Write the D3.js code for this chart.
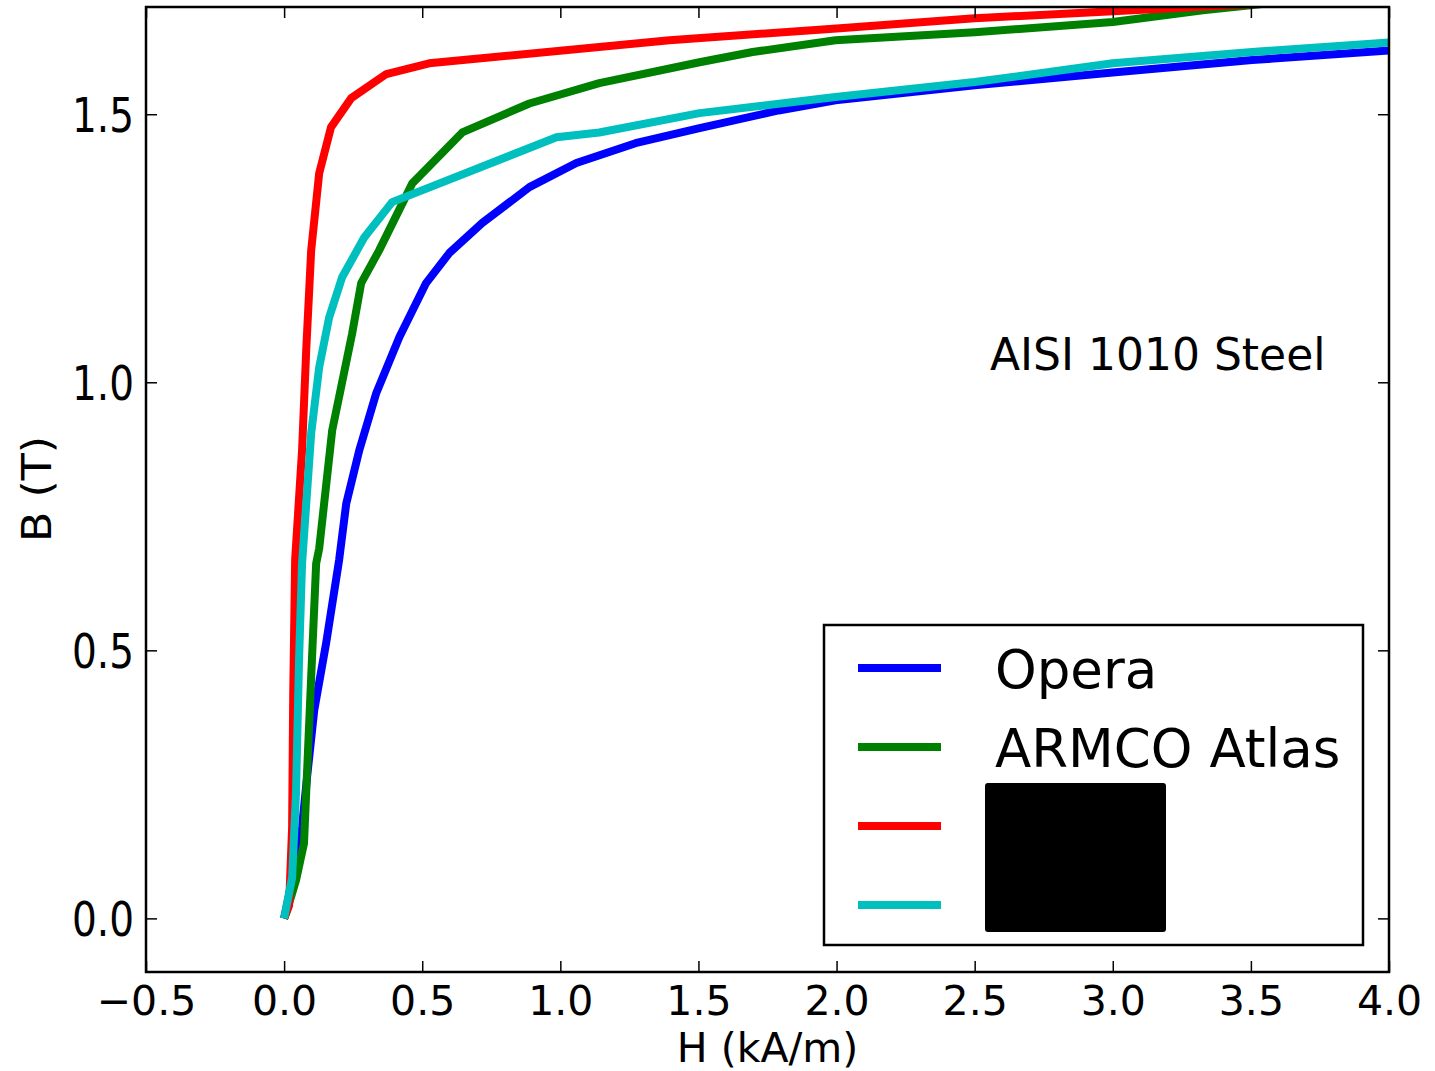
<!DOCTYPE html>
<html><head><meta charset="utf-8">
<script src="https://cdn.jsdelivr.net/npm/d3@7"></script>
<style>html,body{margin:0;padding:0;background:#fff;}text{font-family:"DejaVu Sans",sans-serif;fill:#000;}</style>
</head><body>
<svg id="c" width="1435" height="1071"></svg>
<script>
// Data (H in kA/m, B in T)
const operaH = [0,0.029,0.065,0.083,0.109,0.152,0.199,0.225,0.272,0.333,0.417,0.514,0.598,0.717,0.888,1.058,1.272,1.504,1.79,1.996,2.5,3.0,3.504,4.0];
const operaB = [0,0.071,0.17,0.263,0.388,0.513,0.668,0.774,0.873,0.979,1.084,1.185,1.241,1.297,1.364,1.409,1.446,1.474,1.507,1.526,1.554,1.578,1.601,1.619];
const armcoH = [0,0.007,0.043,0.072,0.098,0.116,0.127,0.174,0.246,0.279,0.344,0.464,0.645,0.888,1.141,1.504,1.696,1.996,2.5,3.0,3.326,3.68,4.0];
const armcoB = [0,0.009,0.071,0.14,0.45,0.662,0.69,0.91,1.09,1.185,1.246,1.371,1.466,1.52,1.558,1.597,1.616,1.638,1.653,1.672,1.694,1.713,1.73];
const redH = [0,0.018,0.029,0.033,0.04,0.065,0.08,0.098,0.127,0.17,0.243,0.37,0.525,1.395,2.0,2.5,3.0,3.5,4.0];
const redB = [0,0.024,0.17,0.42,0.67,0.873,1.06,1.246,1.39,1.476,1.53,1.575,1.595,1.638,1.66,1.679,1.692,1.705,1.718];
const cyanH = [0,0.029,0.043,0.054,0.065,0.098,0.127,0.163,0.21,0.29,0.391,0.986,1.141,1.504,1.996,2.5,3.0,3.504,4.0];
const cyanB = [0,0.076,0.233,0.481,0.662,0.905,1.028,1.121,1.196,1.27,1.336,1.457,1.466,1.502,1.532,1.56,1.595,1.616,1.634];
const seriesNames = ["Opera","ARMCO Atlas","",""];
const seriesColors = ["#0000ff","#008000","#ff0000","#00bfbf"];
const xTicks = [-0.5,0,0.5,1,1.5,2,2.5,3,3.5,4];
const yTicks = [0,0.5,1,1.5];

const series = [[operaH,operaB],[armcoH,armcoB],[redH,redB],[cyanH,cyanB]];

const svg = d3.select("#c");
const L=146,R=1389,T=7,B=972;
const x = d3.scaleLinear().domain([-0.5,4.0]).range([L,R]);
const y = d3.scaleLinear().domain([-0.1,1.7]).range([B,T]);

svg.append("defs").append("clipPath").attr("id","clip")
  .append("rect").attr("x",L).attr("y",T).attr("width",R-L).attr("height",B-T);

const line = d3.line().x(d=>x(d[0])).y(d=>y(d[1]));
const g = svg.append("g").attr("clip-path","url(#clip)");
series.forEach((s,i)=>{
  const pts = s[0].map((h,j)=>[h,s[1][j]]);
  g.append("path").datum(pts).attr("d",line).attr("fill","none")
   .attr("stroke",seriesColors[i]).attr("stroke-width",8)
   .attr("stroke-linejoin","round").attr("stroke-linecap","butt");
});

// axes with inward ticks
const tl=11;
const fmt = d=> (d<0?"\u2212":"")+Math.abs(d).toFixed(1);
const xb = svg.append("g").attr("transform",`translate(0,${B})`)
  .call(d3.axisBottom(x).tickValues(xTicks).tickSizeInner(-tl).tickSizeOuter(0).tickPadding(tl+16).tickFormat(fmt));
const xt = svg.append("g").attr("transform",`translate(0,${T})`)
  .call(d3.axisTop(x).tickValues(xTicks).tickSizeInner(-tl).tickSizeOuter(0).tickFormat(""));
const yl = svg.append("g").attr("transform",`translate(${L},0)`)
  .call(d3.axisLeft(y).tickValues(yTicks).tickSizeInner(-tl).tickSizeOuter(0).tickPadding(12).tickFormat(fmt));
const yr = svg.append("g").attr("transform",`translate(${R},0)`)
  .call(d3.axisRight(y).tickValues(yTicks).tickSizeInner(-tl).tickSizeOuter(0).tickFormat(""));
[xb,xt,yl,yr].forEach(a=>{
  a.select(".domain").remove();
  a.selectAll(".tick line").attr("stroke","#000").attr("stroke-width",1.5);
  a.selectAll("text").attr("font-size",41).attr("font-family","DejaVu Sans").attr("fill","#000");
});
xb.selectAll("text").attr("dy",null).attr("y",null).attr("dominant-baseline","auto").attr("transform","translate(0,43)");
yl.selectAll("text").attr("font-size",39).attr("dy","0.36em").attr("transform","scale(1,1.25)");

svg.append("rect").attr("x",L).attr("y",T).attr("width",R-L).attr("height",B-T)
  .attr("fill","none").attr("stroke","#000").attr("stroke-width",2.5);

svg.append("text").attr("x",(L+R)/2).attr("y",1062).attr("text-anchor","middle").attr("font-size",41).text("H (kA/m)");
svg.append("text").attr("transform","translate(51,489) rotate(-90) scale(1.08,1)").attr("text-anchor","middle").attr("font-size",41).text("B (T)");
svg.append("text").attr("x",990).attr("y",370).attr("font-size",44).text("AISI 1010 Steel");

// legend
const lg = svg.append("g");
lg.append("rect").attr("x",824).attr("y",625).attr("width",539).attr("height",320)
  .attr("fill","#fff").attr("stroke","#000").attr("stroke-width",2.5);
const ly = [668,747,826,905];
seriesColors.forEach((c,i)=>{
  lg.append("line").attr("x1",858).attr("x2",941).attr("y1",ly[i]).attr("y2",ly[i])
    .attr("stroke",c).attr("stroke-width",8);
  if(seriesNames[i]) lg.append("text").attr("x",995).attr("y",ly[i]+20).attr("font-size",53).text(seriesNames[i]);
});
lg.append("rect").attr("x",985).attr("y",783).attr("width",181).attr("height",149).attr("rx",3).attr("fill","#000");
</script>
</body></html>
